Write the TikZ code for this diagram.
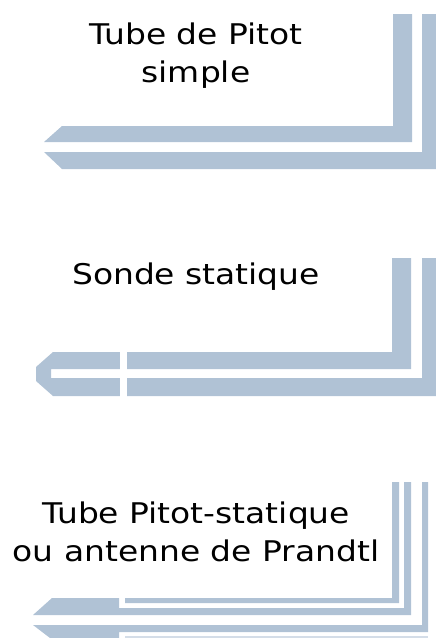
\documentclass[tikz,border=0pt]{standalone}
\usepackage{fontspec}
\setmainfont{DejaVu Sans}
\definecolor{tubeblue}{RGB}{176,194,213}
\tikzset{
  tube/.style={fill=tubeblue,draw=none},
  faint/.style={fill=tubeblue!55,draw=none},
  gap/.style={fill=white,draw=none},
  lbl/.style={font=\fontsize{28.5}{38}\selectfont,text=black,align=center,inner sep=0pt,xscale=1.155}
}
\begin{document}
\begin{tikzpicture}[x=1pt,y=-1pt]
\useasboundingbox (0,0) rectangle (436,638);
% panel 1
\fill[tube] (393,14) -- (412,14) -- (412,142) -- (44,142) -- (62,126) -- (393,126) -- cycle;
\fill[tube] (422,14) -- (436,14) -- (436,169) -- (62,169) -- (44,152) -- (422,152) -- cycle;
\node[lbl] (t1) at (196,56) {Tube de Pitot\\simple};
% panel 2
\fill[tube] (392,258) -- (411,258) -- (411,369) -- (51,369) -- (51,378) -- (422,378) -- (422,258) -- (436,258) -- (436,396) -- (53,396) -- (36,381) -- (36,367) -- (53,352) -- (392,352) -- cycle;
\fill[gap] (120,350) rectangle (127,398);
\node[lbl] (t2) at (196,277) {Sonde statique};
% panel 3
\fill[tube] (392,482) -- (399,482) -- (399,603) -- (125,603) -- (125,598) -- (392,598) -- cycle;
\fill[tube] (404,482) -- (411,482) -- (411,615) -- (33,615) -- (52,598) -- (119,598) -- (119,608) -- (404,608) -- cycle;
\fill[tube] (422,482) -- (428,482) -- (428,632) -- (119,632) -- (119,638) -- (50,638) -- (33,625) -- (422,625) -- cycle;
\fill[faint] (125,636) rectangle (428,638);
\node[lbl] (t3) at (196,532) {Tube Pitot-statique\\ou antenne de Prandtl};
\end{tikzpicture}
\end{document}
